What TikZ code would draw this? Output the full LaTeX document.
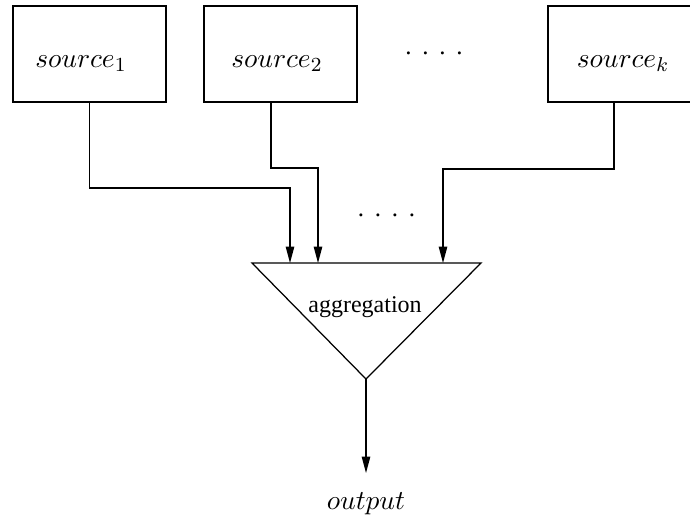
\documentclass[tikz,border=0pt]{standalone}
\usepackage{fontspec}
\newfontfamily\tnr{Liberation Serif}
\DeclareMathSizes{10.5}{10.5}{8}{6}
\usetikzlibrary{arrows.meta}
\begin{document}
\begin{tikzpicture}[x=0.4pt,y=-0.4pt,
  box/.style={draw,line width=0.5pt,minimum width=61.2pt,minimum height=38.4pt,inner sep=0pt,outer sep=0pt},
  lbl/.style={anchor=base,inner sep=0pt,font=\fontsize{10.5}{12}\selectfont},
  wire/.style={line width=0.5pt},
  arr/.style={wire,-{Triangle[length=6.6pt,width=3.4pt]}},
  dotrow/.style={anchor=base,inner sep=0pt,font=\tnr\fontsize{10}{12}\selectfont}]
\useasboundingbox (0,0) rectangle (690,516);
% source boxes
\node[box] (s1) at (89.5,54) {};
\node[box] (s2) at (280.5,54) {};
\node[box] (sk) at (624.5,54) {};
\node[lbl] (s1l) at (81,67) {$source_1$};
\node[lbl] (s2l) at (277,67) {$source_2$};
\node[lbl] (skl) at (623,67) {$source_k$};
\node[dotrow] (d1) at (434,54.5) {.\kern4.3pt.\kern4.3pt.\kern4.3pt.};
% aggregation triangle
\coordinate (tl) at (252,263);
\coordinate (tr) at (481,263);
\coordinate (ta) at (366,379);
\draw[wire,line join=miter] (tl) -- (tr) -- (ta) -- cycle;
\node[anchor=base,inner sep=0pt,font=\tnr\fontsize{9.6}{12}\selectfont] (agg) at (365,312) {aggregation};
\node[dotrow] (d2) at (386.5,216.5) {.\kern4.3pt.\kern4.3pt.\kern4.3pt.};
% inputs
\coordinate (in1) at (290,263);
\coordinate (in2) at (318,263);
\coordinate (ink) at (443,263);
\coordinate (o2) at (271,102);
\coordinate (ok) at (614,102);
\draw[arr] (s1.south) |- (290,188) -- (in1);
\draw[arr] (o2) |- (318,168) -- (in2);
\draw[arr] (ok) |- (443,169) -- (ink);
% output
\coordinate (outtip) at (366,473);
\draw[arr] (ta) -- (outtip);
\node[lbl] (out) at (366,509) {$output$};
\end{tikzpicture}
\end{document}
